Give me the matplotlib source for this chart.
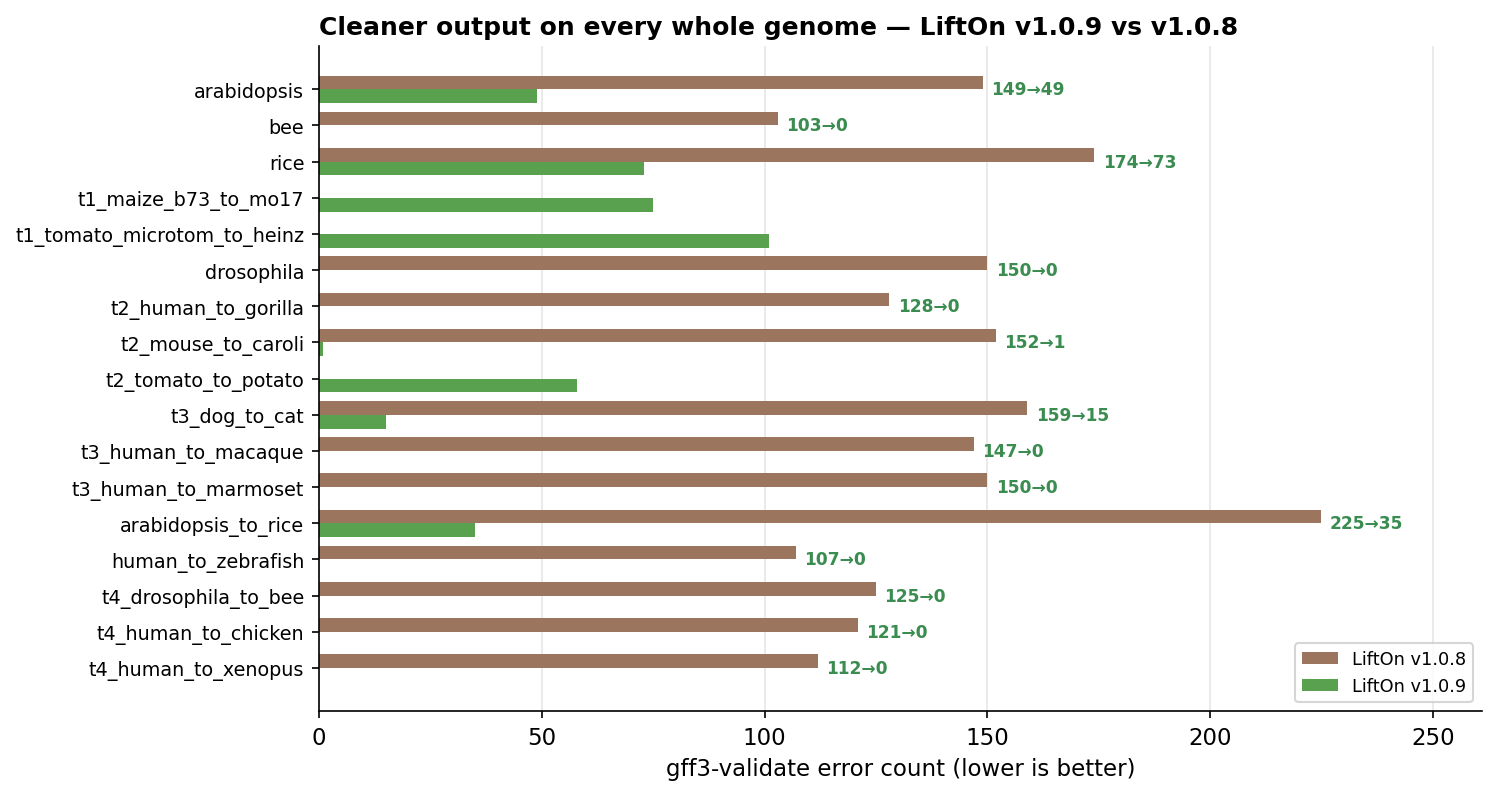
import numpy as np
import matplotlib.pyplot as plt

genomes = ["arabidopsis", "bee", "rice", "t1_maize_b73_to_mo17", "t1_tomato_microtom_to_heinz",
           "drosophila", "t2_human_to_gorilla", "t2_mouse_to_caroli", "t2_tomato_to_potato",
           "t3_dog_to_cat", "t3_human_to_macaque", "t3_human_to_marmoset", "arabidopsis_to_rice",
           "human_to_zebrafish", "t4_drosophila_to_bee", "t4_human_to_chicken", "t4_human_to_xenopus"]
# nan = v1.0.8 produced no output for that genome
v108 = [149, 103, 174, np.nan, np.nan, 150, 128, 152, np.nan, 159, 147, 150, 225, 107, 125, 121, 112]
v109 = [49, 0, 73, 75, 101, 0, 0, 1, 58, 15, 0, 0, 35, 0, 0, 0, 0]

v108 = np.array(v108, dtype=float)
v109 = np.array(v109, dtype=float)
y = np.arange(len(genomes))
h = 0.38

fig, ax = plt.subplots(figsize=(9.973, 5.333), dpi=150)
fig.subplots_adjust(left=0.2132, right=0.9906, top=0.941, bottom=0.11)

ax.barh(y - h / 2, np.nan_to_num(v108), height=h, color="#9c755f", label="LiftOn v1.0.8", zorder=2)
ax.barh(y + h / 2, v109, height=h, color="#59a14f", label="LiftOn v1.0.9", zorder=2)

for i in range(len(genomes)):
    if np.isnan(v108[i]):
        continue
    ax.annotate(f"{int(v108[i])}\u2192{int(v109[i])}", xy=(max(v108[i], v109[i]), y[i]),
                xytext=(4, 0), textcoords="offset points", va="center", ha="left",
                fontsize=8.2, fontweight="bold", color="#3a8c50")

ax.set_yticks(y)
ax.set_yticklabels(genomes, fontsize=9.2)
ax.set_ylim(len(genomes) - 1 + 1.19, -1.19)
ax.set_xlim(0, 261)
ax.tick_params(axis="x", labelsize=11)
ax.set_xlabel("gff3-validate error count (lower is better)", fontsize=11)
ax.set_title("Cleaner output on every whole genome \u2014 LiftOn v1.0.9 vs v1.0.8",
             fontsize=12, fontweight="bold", loc="left")
ax.grid(axis="x", color="#e6e6e6", linewidth=0.8, zorder=0)
ax.spines["top"].set_visible(False)
ax.spines["right"].set_visible(False)
ax.legend(loc="lower right", fontsize=8.5)

fig.savefig("out.png", dpi=150)
